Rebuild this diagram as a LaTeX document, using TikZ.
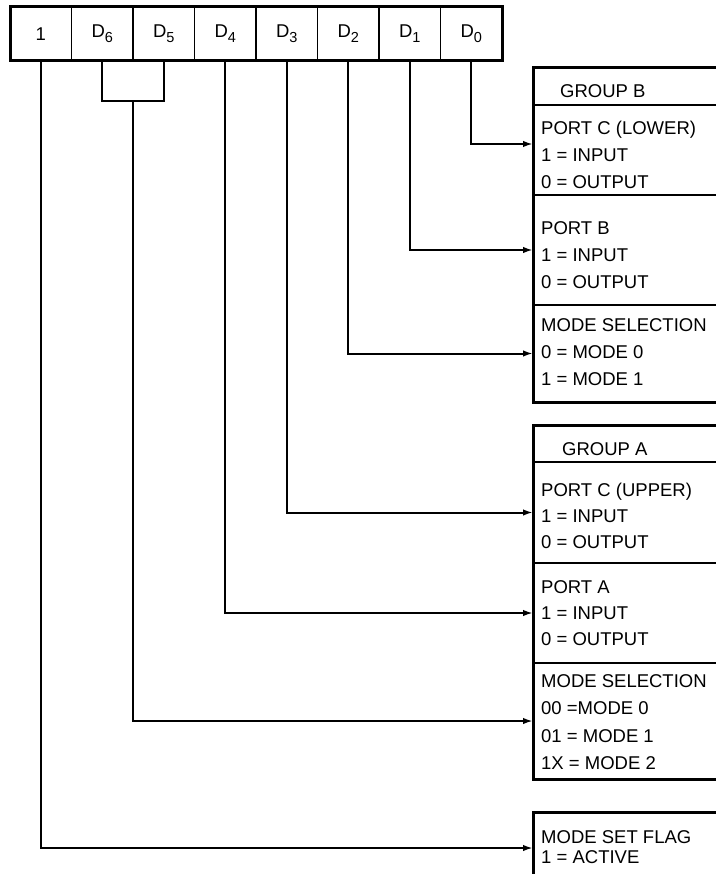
\documentclass[tikz,border=0pt]{standalone}
\usepackage{fontspec}
\setmainfont{Liberation Sans}
\usetikzlibrary{arrows.meta,positioning,calc}

\newcommand\bitidx[1]{\raisebox{-5pt}{\fontsize{14.5}{14.5}\selectfont #1}}
\newcommand\boxfont{\fontsize{18.5}{27}\selectfont}
\newcommand\fst{\rule{0pt}{15pt}}

\begin{document}
\begin{tikzpicture}[
  x=1pt, y=-1pt,
  cell/.style={draw, line width=1.8pt, outer sep=0pt, inner sep=0pt,
               minimum width=61.5pt, minimum height=54pt,
               font=\fontsize{18.5}{18.5}\selectfont},
  frame/.style={draw, line width=3pt},
  sect/.style={draw, line width=2pt, outer sep=0pt, inner sep=0pt,
               minimum width=200pt},
  txt/.style={anchor=north west, inner sep=0pt, align=left, font=\boxfont},
  wire/.style={line width=2pt},
  arr/.style={wire, -{Latex[length=10pt,width=6.5pt]}}
]
  \useasboundingbox (0,0) rectangle (715,874);

  % control word
  \node[cell, anchor=north west] (b7) at (10,7) {1};
  \node[cell, right=0pt of b7] (b6) {D\bitidx{6}};
  \node[cell, right=0pt of b6] (b5) {D\bitidx{5}};
  \node[cell, right=0pt of b5] (b4) {D\bitidx{4}};
  \node[cell, right=0pt of b4] (b3) {D\bitidx{3}};
  \node[cell, right=0pt of b3] (b2) {D\bitidx{2}};
  \node[cell, right=0pt of b2] (b1) {D\bitidx{1}};
  \node[cell, right=0pt of b1] (b0) {D\bitidx{0}};
  \draw[frame] (b7.north west) rectangle (b0.south east);

  % group B
  \node[sect, anchor=north west, minimum height=37pt] (hdrB) at (533,68) {};
  \node[sect, below=0pt of hdrB, minimum height=90pt] (pcl) {};
  \node[sect, below=0pt of pcl, minimum height=110pt] (pb) {};
  \node[sect, below=0pt of pb, minimum height=97pt] (msb) {};
  \draw[frame] (hdrB.north west) rectangle (msb.south east);

  % group A
  \node[sect, anchor=north west, minimum height=37pt] (hdrA) at (533,425) {};
  \node[sect, below=0pt of hdrA, minimum height=101pt] (pcu) {};
  \node[sect, below=0pt of pcu, minimum height=100pt] (pa) {};
  \node[sect, below=0pt of pa, minimum height=116pt] (msa) {};
  \draw[frame] (hdrA.north west) rectangle (msa.south east);

  % mode set flag
  \node[sect, anchor=north west, minimum height=72pt] (flag) at (533,812) {};
  \draw[frame] (flag.north west) rectangle (flag.south east);

  \node[txt] (grpBtxt) at (560,82) {\fst GROUP B};
  \node[txt] (pcltxt) at (541,119) {\fst PORT C (LOWER)\\1 = INPUT\\0 = OUTPUT};
  \node[txt] (pbtxt) at (541,219) {\fst PORT B\\1 = INPUT\\0 = OUTPUT};
  \node[txt] (msbtxt) at (541,316) {\fst MODE SELECTION\\0 = MODE 0\\1 = MODE 1};
  \node[txt] (grpAtxt) at (562,440) {\fst GROUP A};
  \node[txt, font=\fontsize{18.5}{26}\selectfont] (pcutxt) at (541,481)
    {\fst PORT C (UPPER)\\1 = INPUT\\0 = OUTPUT};
  \node[txt, font=\fontsize{18.5}{26}\selectfont] (patxt) at (541,578)
    {\fst PORT A\\1 = INPUT\\0 = OUTPUT};
  \node[txt, font=\fontsize{18.5}{27.5}\selectfont] (msatxt) at (541,672)
    {\fst MODE SELECTION\\00 =MODE 0\\01 = MODE 1\\1X = MODE 2};
  \node[txt, font=\fontsize{18.5}{20}\selectfont] (flagtxt) at (541,828)
    {\fst MODE SET FLAG\\1 = ACTIVE};

  % bit lines
  \draw[arr] (b0.south) |- ([yshift=6pt]pcl.west);
  \draw[arr] (b1.south) |- (pb.west);
  \draw[arr] (b2.south) |- (msb.west);
  \draw[arr] (b3.south) |- (pcu.west);
  \draw[arr] (b4.south) |- (pa.west);
  \path ($(b6.south)!.5!(b5.south)$) ++(0,40) coordinate (b65);
  \draw[wire] (b6.south) |- (b65) -| (b5.south);
  \draw[arr] (b65) |- (msa.west);
  \draw[arr] (b7.south) |- (flag.west);
\end{tikzpicture}
\end{document}
